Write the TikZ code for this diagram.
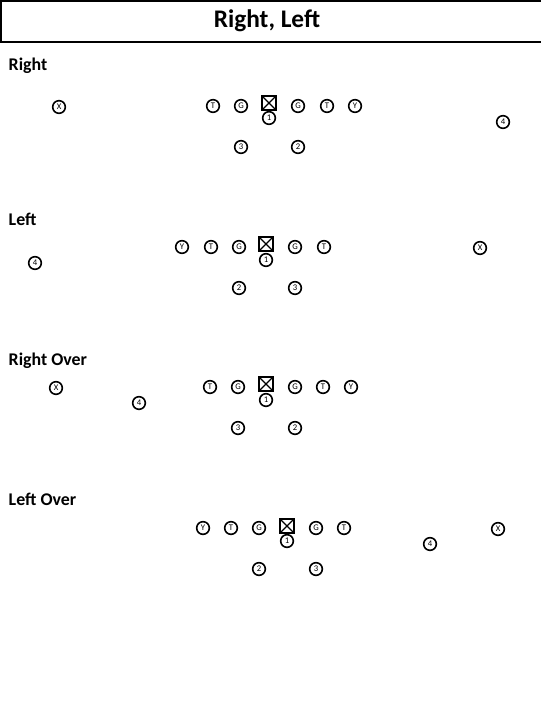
\documentclass[tikz,border=0pt]{standalone}
\usepackage{fontspec}
\setmainfont{Carlito}
\begin{document}
\begin{tikzpicture}[x=0.75pt,y=-0.75pt,
  pl/.style={circle,draw,line width=1.2pt,inner sep=0pt,minimum size=9.5pt,font=\fontsize{6.5}{7}\selectfont},
  ctr/.style={draw,line width=1.4pt,minimum size=10pt,inner sep=0pt,
    path picture={\draw[line width=0.9pt] (path picture bounding box.south west)--(path picture bounding box.north east)
      (path picture bounding box.north west)--(path picture bounding box.south east);}},
  hdr/.style={anchor=west,font=\bfseries\fontsize{13.4}{15}\selectfont},
  ttl/.style={font=\bfseries\fontsize{19}{21}\selectfont}]
\useasboundingbox (0,0) rectangle (540,720);
\draw[line width=0.9pt] (1,1) rectangle (545,42);
\node[ttl] (title) at (267,21) {Right, Left};
% Right
\node[hdr] (h1) at (4,66) {Right};
\node[pl] (r-x) at (59,107) {X};
\node[pl] (r-t1) at (213,106) {T};
\node[pl] (r-g1) at (241,106) {G};
\node[ctr] (r-c) at (269,103) {};
\node[pl,fill=white] (r-1) at (269,118) {1};
\node[pl] (r-g2) at (298,106) {G};
\node[pl] (r-t2) at (327,106) {T};
\node[pl] (r-y) at (355,106) {Y};
\node[pl] (r-4) at (503,122) {4};
\node[pl] (r-3) at (241,147) {3};
\node[pl] (r-2) at (298,147) {2};
% Left
\node[hdr] (h2) at (4,219) {Left};
\node[pl] (l-y) at (182,247) {Y};
\node[pl] (l-t1) at (211,247) {T};
\node[pl] (l-g1) at (239,247) {G};
\node[ctr] (l-c) at (266,244) {};
\node[pl,fill=white] (l-1) at (266,260) {1};
\node[pl] (l-g2) at (295,247) {G};
\node[pl] (l-t2) at (324,247) {T};
\node[pl] (l-x) at (480,248) {X};
\node[pl] (l-4) at (35,263) {4};
\node[pl] (l-2) at (239,288) {2};
\node[pl] (l-3) at (295,288) {3};
% Right Over
\node[hdr] (h3) at (4,361) {Right Over};
\node[pl] (ro-x) at (56,388) {X};
\node[pl] (ro-4) at (139,403) {4};
\node[pl] (ro-t1) at (210,387) {T};
\node[pl] (ro-g1) at (238,387) {G};
\node[ctr] (ro-c) at (266,384) {};
\node[pl,fill=white] (ro-1) at (266,400) {1};
\node[pl] (ro-g2) at (295,387) {G};
\node[pl] (ro-t2) at (323,387) {T};
\node[pl] (ro-y) at (351,387) {Y};
\node[pl] (ro-3) at (238,428) {3};
\node[pl] (ro-2) at (295,428) {2};
% Left Over
\node[hdr] (h4) at (4,499) {Left Over};
\node[pl] (lo-y) at (203,528) {Y};
\node[pl] (lo-t1) at (231,528) {T};
\node[pl] (lo-g1) at (259,528) {G};
\node[ctr] (lo-c) at (287,526) {};
\node[pl,fill=white] (lo-1) at (287,541) {1};
\node[pl] (lo-g2) at (316,528) {G};
\node[pl] (lo-t2) at (344,528) {T};
\node[pl] (lo-4) at (430,544) {4};
\node[pl] (lo-x) at (498,529) {X};
\node[pl] (lo-2) at (259,569) {2};
\node[pl] (lo-3) at (316,569) {3};
\end{tikzpicture}
\end{document}
